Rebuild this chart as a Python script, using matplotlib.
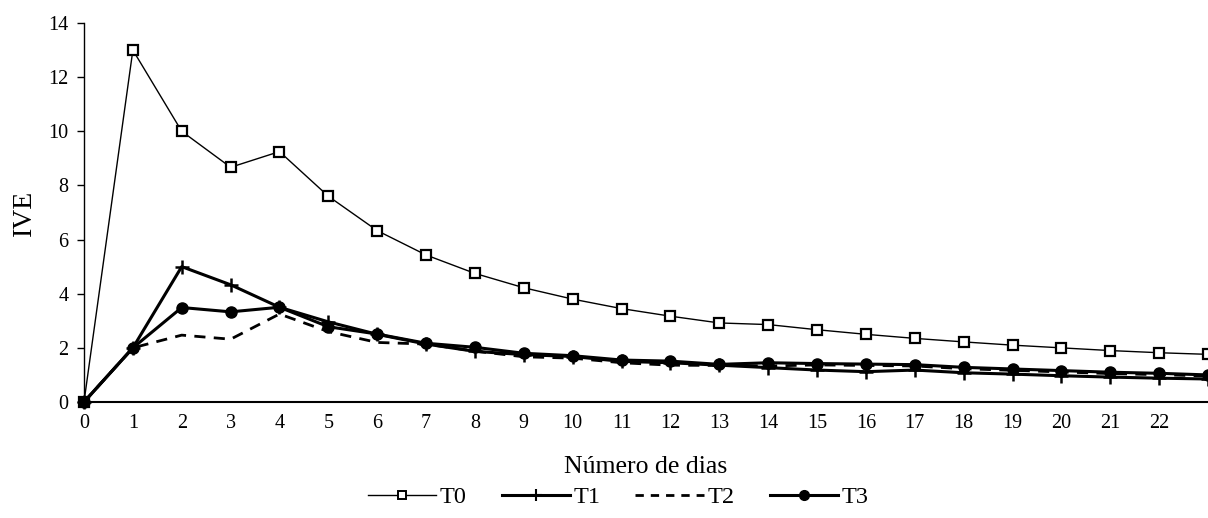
import matplotlib
matplotlib.use("Agg")
import matplotlib.pyplot as plt
from matplotlib.lines import Line2D

days = list(range(0, 24))
t0 = [0, 13.0, 10.0, 8.67, 9.25, 7.6, 6.33, 5.43, 4.75, 4.22, 3.8, 3.45, 3.17,
      2.92, 2.86, 2.67, 2.5, 2.35, 2.22, 2.1, 2.0, 1.9, 1.82, 1.76]
t1 = [0, 2.0, 5.0, 4.33, 3.5, 2.96, 2.5, 2.14, 1.87, 1.75, 1.68, 1.5, 1.45,
      1.36, 1.27, 1.18, 1.12, 1.18, 1.08, 1.03, 0.97, 0.92, 0.88, 0.85]
t2 = [0, 2.0, 2.47, 2.32, 3.25, 2.6, 2.2, 2.14, 1.88, 1.67, 1.62, 1.45, 1.36,
      1.35, 1.33, 1.37, 1.35, 1.33, 1.23, 1.17, 1.11, 1.05, 1.01, 0.96]
t3 = [0, 2.0, 3.49, 3.33, 3.5, 2.78, 2.51, 2.17, 2.02, 1.8, 1.71, 1.55, 1.51,
      1.39, 1.45, 1.42, 1.4, 1.38, 1.28, 1.22, 1.16, 1.1, 1.06, 1.0]
series_names = ["T0", "T1", "T2", "T3"]
xtick_labels = [str(d) for d in range(0, 23)]
yticks = [0, 2, 4, 6, 8, 10, 12, 14]

plt.rcParams['font.family'] = ['Liberation Serif', 'DejaVu Serif']

fig = plt.figure(figsize=(12.08, 5.18), dpi=100)
ax = fig.add_axes([84/1208, (518-402)/518, 1 - 84/1208, (402-23)/518])

ax.plot(days, t0, color='black', lw=1.0, marker='s', ms=7, mfc='white',
        mec='black', mew=1.6, clip_on=False, zorder=3)
ax.plot(days, t1, color='black', lw=2.2, marker='+', ms=10, mew=1.8,
        clip_on=False, zorder=4)
ax.plot(days, t2, color='black', lw=2.0, ls=(0, (4, 3)), clip_on=False, zorder=4)
ax.plot(days, t3, color='black', lw=2.2, marker='o', ms=8,
        clip_on=False, zorder=5)

ax.set_xlim(0, 23)
ax.set_ylim(0, 14)
ax.set_xticks(range(0, 23))
ax.set_xticklabels(xtick_labels)
ax.set_yticks(yticks)
ax.tick_params(axis='x', length=0, pad=9, labelsize=14.5)
ax.tick_params(axis='y', length=5, width=1, direction='out', pad=6, labelsize=14.5)
for s in ['top', 'right']:
    ax.spines[s].set_visible(False)
ax.spines['left'].set_linewidth(1.0)
ax.spines['bottom'].set_linewidth(1.5)

ax.set_xlabel("Número de dias", fontsize=18.5, labelpad=16)
ax.set_ylabel("IVE", fontsize=20, labelpad=8)

handles = [
    Line2D([], [], color='black', lw=1.0, marker='s', ms=6, mfc='white', mec='black', mew=1.4),
    Line2D([], [], color='black', lw=2.2, marker='+', ms=8, mew=1.5),
    Line2D([], [], color='black', lw=2.0, ls=(0, (3, 2.5))),
    Line2D([], [], color='black', lw=2.2, marker='o', ms=7),
]
fig.legend(handles, series_names, loc='center', bbox_to_anchor=(618/1208, (518-497)/518),
           ncol=4, frameon=False, fontsize=17.5, handlelength=2.8, handletextpad=0.15,
           columnspacing=1.45)

fig.savefig("out.png", dpi=100)
